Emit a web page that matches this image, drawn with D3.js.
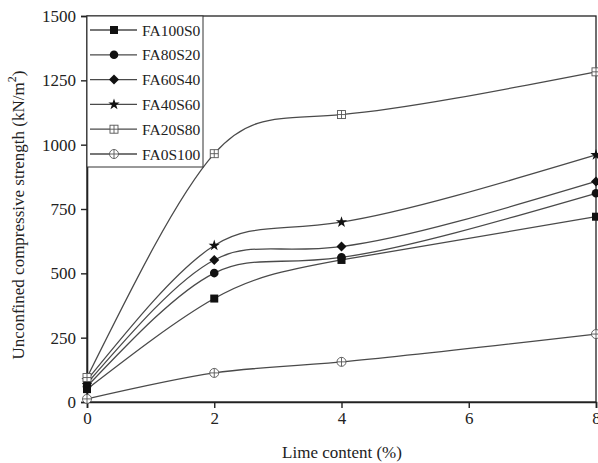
<!DOCTYPE html>
<html><head><meta charset="utf-8">
<script src="https://cdn.jsdelivr.net/npm/d3@7/dist/d3.min.js"></script>
<style>body{margin:0;background:#fff}svg{display:block}text{font-family:"Liberation Serif","Times New Roman",serif;fill:#222}</style>
</head><body><svg id="c" width="598" height="463"></svg>
<script>
const limeContent = [0, 2, 4, 8];
const seriesNames = ["FA100S0", "FA80S20", "FA60S40", "FA40S60", "FA20S80", "FA0S100"];
const FA100S0 = [50, 402, 552, 720];
const FA80S20 = [60, 501, 562, 811];
const FA60S40 = [72, 552, 604, 857];
const FA40S60 = [85, 608, 699, 960];
const FA20S80 = [95, 965, 1117, 1283];
const FA0S100 = [12, 113, 156, 264];
const seriesValues = [FA100S0, FA80S20, FA60S40, FA40S60, FA20S80, FA0S100];
const markerTypes = ["square", "circle", "diamond", "star", "squareCross", "circleCross"];
const xTicks = [0, 2, 4, 6, 8];
const yTicks = [0, 250, 500, 750, 1000, 1250, 1500];

const svg = d3.select("#c");
const L = 87, R = 596, T = 16, B = 402;
const x = d3.scaleLinear().domain([0, 8]).range([L, R]);
const y = d3.scaleLinear().domain([0, 1500]).range([B, T]);

svg.append("rect").attr("x", L).attr("y", T).attr("width", R - L).attr("height", B - T)
  .attr("fill", "none").attr("stroke", "#222").attr("stroke-width", 1.3);

const xAxis = svg.append("g").attr("transform", `translate(0,${B})`)
  .call(d3.axisBottom(x).tickValues(xTicks).tickSize(6).tickPadding(4).tickFormat(d3.format("d")));
const yAxis = svg.append("g").attr("transform", `translate(${L},0)`)
  .call(d3.axisLeft(y).tickValues(yTicks).tickSize(6).tickPadding(5).tickFormat(d3.format("d")));
[xAxis, yAxis].forEach(a => {
  a.select(".domain").attr("stroke", "#222").attr("stroke-width", 1.6);
  a.selectAll(".tick line").attr("stroke", "#222").attr("stroke-width", 1.4);
  a.selectAll(".tick text").attr("font-size", 17).attr("font-family", "Liberation Serif").attr("fill", "#222");
});

svg.append("text").attr("x", 342).attr("y", 458).attr("text-anchor", "middle")
  .attr("font-size", 17).text("Lime content (%)");
const yt = svg.append("text").attr("transform", `translate(24,${(T + B) / 2 + 6}) rotate(-90)`)
  .attr("text-anchor", "middle").attr("font-size", 17);
yt.append("tspan").text("Unconfined compressive strength (kN/m");
yt.append("tspan").attr("font-size", 12).attr("dy", -8).text("2");
yt.append("tspan").attr("dy", 8).text(")");

const line = d3.line().x((d, i) => x(limeContent[i])).y(d => y(d)).curve(d3.curveNatural);
const lineColor = "#4a4a4a";

function marker(g, type, cx, cy) {
  const s = 4;
  if (type === "square") g.append("rect").attr("x", cx - s).attr("y", cy - s).attr("width", 2 * s).attr("height", 2 * s).attr("fill", "#111");
  else if (type === "circle") g.append("circle").attr("cx", cx).attr("cy", cy).attr("r", s + 0.3).attr("fill", "#111");
  else if (type === "diamond") g.append("path").attr("d", `M${cx},${cy - 5}L${cx + 5},${cy}L${cx},${cy + 5}L${cx - 5},${cy}Z`).attr("fill", "#111");
  else if (type === "star") g.append("path").attr("d", d3.symbol(d3.symbolStar, 40)()).attr("transform", `translate(${cx},${cy})`).attr("fill", "#111");
  else if (type === "squareCross") {
    g.append("rect").attr("x", cx - s).attr("y", cy - s).attr("width", 2 * s).attr("height", 2 * s).attr("fill", "#fff").attr("stroke", "#555").attr("stroke-width", 0.9);
    g.append("path").attr("d", `M${cx - s},${cy}H${cx + s}M${cx},${cy - s}V${cy + s}`).attr("stroke", "#555").attr("stroke-width", 0.9);
  } else {
    g.append("circle").attr("cx", cx).attr("cy", cy).attr("r", s + 0.5).attr("fill", "#fff").attr("stroke", "#555").attr("stroke-width", 0.9);
    g.append("path").attr("d", `M${cx - s - 0.5},${cy}H${cx + s + 0.5}M${cx},${cy - s - 0.5}V${cy + s + 0.5}`).attr("stroke", "#555").attr("stroke-width", 0.9);
  }
}

const plot = svg.append("g");
seriesValues.forEach((vals, k) => {
  plot.append("path").attr("d", line(vals)).attr("fill", "none").attr("stroke", lineColor).attr("stroke-width", 1.3);
  const g = plot.append("g");
  vals.forEach((v, i) => marker(g, markerTypes[k], x(limeContent[i]), y(v)));
});

const lg = svg.append("g");
lg.append("rect").attr("x", L).attr("y", T).attr("width", 116).attr("height", 151)
  .attr("fill", "#fff").attr("stroke", "#333").attr("stroke-width", 1);
seriesNames.forEach((n, k) => {
  const ly = 30 + k * 24.8;
  lg.append("line").attr("x1", 90).attr("x2", 137).attr("y1", ly).attr("y2", ly).attr("stroke", lineColor).attr("stroke-width", 1.3);
  marker(lg, markerTypes[k], 114, ly);
  lg.append("text").attr("x", 142).attr("y", ly + 5.5).attr("font-size", 15.5).text(n);
});
</script></body></html>
